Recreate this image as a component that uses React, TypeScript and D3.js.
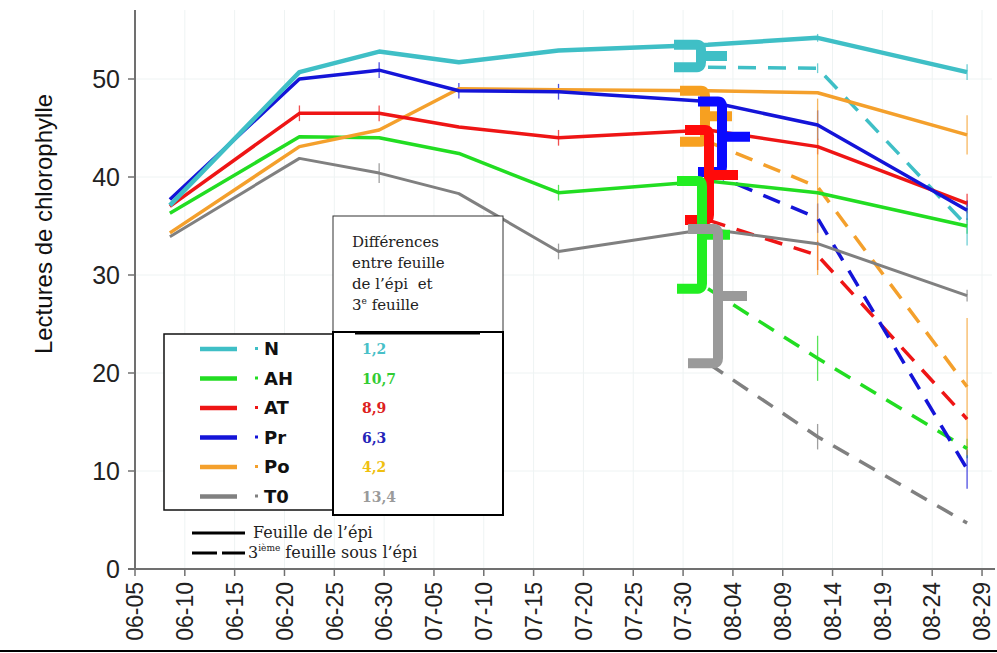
import React from 'react';
import * as d3 from 'd3';

// ---------- DATA ----------
const dates = ['2010-06-08T12', '2010-06-21T12', '2010-06-29T12', '2010-07-07T12', '2010-07-17T12', '2010-08-01T12', '2010-08-12T12', '2010-08-27T12'];
const treatments = ['N', 'AH', 'AT', 'Pr', 'Po', 'T0'];
const differences = ['1,2', '10,7', '8,9', '6,3', '4,2', '13,4'];

// Feuille de l'épi (flag leaf), one value per date
const flagN = [37.1, 50.7, 52.8, 51.7, 52.9, 53.5, 54.2, 50.7];
const flagAH = [36.3, 44.1, 44.0, 42.4, 38.4, 39.6, 38.4, 35.0];
const flagAT = [37.0, 46.5, 46.5, 45.1, 44.0, 44.8, 43.1, 37.3];
const flagPr = [37.7, 50.0, 50.9, 48.8, 48.7, 47.7, 45.3, 36.6];
const flagPo = [34.3, 43.1, 44.8, 49.0, 48.9, 48.8, 48.6, 44.3];
const flagT0 = [33.9, 41.9, 40.4, 38.3, 32.4, 34.7, 33.2, 27.9];

// 3ième feuille sous l'épi, last three dates
const thirdN = [51.2, 51.1, 35.0];
const thirdAH = [28.6, 21.5, 12.3];
const thirdAT = [35.6, 32.0, 15.3];
const thirdPr = [40.5, 35.8, 10.2];
const thirdPo = [43.6, 39.0, 18.6];
const thirdT0 = [21.0, 13.5, 4.7];

// error bar half-ranges
const errFlagN = [0, 0, 0, 0, 0, 0, 0.4, 0.8];
const errFlagAH = [0, 0, 0, 0, 0.8, 0, 0, 0.8];
const errFlagAT = [0, 0.8, 0.8, 0, 0.8, 0, 0.8, 1.0];
const errFlagPr = [0, 0, 0.8, 0.8, 0.8, 0, 1.5, 1.0];
const errFlagPo = [0, 0, 0, 0, 0, 0, 0, 2.0];
const errFlagT0 = [0, 0, 1.0, 0, 0.8, 0, 0, 0.6];
const errThirdN = [0, 0.5, 2.0];
const errThirdAH = [0, 2.3, 1.0];
const errThirdAT = [0, 1.5, 0];
const errThirdPr = [0, 1.5, 2.0];
const errThirdPo = [0, 9.0, 7.0];
const errThirdT0 = [0, 1.3, 0];

const yTicks = [0, 10, 20, 30, 40, 50];

// ---------- STYLE ----------
const colors: Record<string, string> = {
  N: '#3fbfc6', AH: '#22dd22', AT: '#ee1515', Pr: '#1414d8', Po: '#f4a02c', T0: '#808080',
};
const valueColors: Record<string, string> = {
  N: '#48c0c8', AH: '#33cc33', AT: '#dd2020', Pr: '#2424b8', Po: '#efc010', T0: '#9a9a9a',
};
const bracketColors: Record<string, string> = {
  N: '#3fbfc6', AH: '#22ee22', AT: '#ff0a0a', Pr: '#0a0aff', Po: '#f7a020', T0: '#9a9a9a',
};
// bracket geometry offsets relative to x of the bracket date (spine, arm, tip)
const bracketOffsets: Record<string, [number, number, number]> = {
  N: [-7, -34, 19], Po: [-3, -28, 24], Pr: [14, -10, 42], AT: [1, -23, 30], AH: [-6, -31, 22], T0: [10, -20, 39],
};
const bracketOrder = ['Po', 'Pr', 'AT', 'AH', 'T0', 'N'];

const W = 997;
const H = 653;

export default function App() {
  const parse = d3.timeParse('%Y-%m-%dT%H');
  const dts = dates.map((d) => parse(d) as Date);
  const x = d3.scaleTime().domain([new Date(2010, 5, 5), new Date(2010, 7, 30)]).range([135, 992]);
  const y = d3.scaleLinear().domain([0, 57]).range([569, 10.4]);
  const xTicks = d3.timeDay.range(new Date(2010, 5, 5), new Date(2010, 7, 30), 5);
  const fmt = d3.timeFormat('%m-%d');

  const flags: Record<string, number[]> = { N: flagN, AH: flagAH, AT: flagAT, Pr: flagPr, Po: flagPo, T0: flagT0 };
  const thirds: Record<string, number[]> = { N: thirdN, AH: thirdAH, AT: thirdAT, Pr: thirdPr, Po: thirdPo, T0: thirdT0 };
  const errF: Record<string, number[]> = { N: errFlagN, AH: errFlagAH, AT: errFlagAT, Pr: errFlagPr, Po: errFlagPo, T0: errFlagT0 };
  const errT: Record<string, number[]> = { N: errThirdN, AH: errThirdAH, AT: errThirdAT, Pr: errThirdPr, Po: errThirdPo, T0: errThirdT0 };
  const thirdDates = dts.slice(5);

  const line = d3.line<[Date, number]>().x((d) => x(d[0])).y((d) => y(d[1]));

  const drawOrderSolid = ['T0', 'AH', 'Po', 'AT', 'Pr', 'N'];
  const bx = x(dts[5]);

  const bracketPath = (k: string) => {
    const [s, a, t] = bracketOffsets[k];
    const yTop = y(flags[k][5]);
    const yBot = y(thirds[k][0]);
    const yMid = (yTop + yBot) / 2;
    const p = d3.path();
    p.moveTo(bx + a, yTop);
    p.lineTo(bx + s - 4, yTop);
    p.quadraticCurveTo(bx + s, yTop, bx + s, yTop + 5);
    p.lineTo(bx + s, yMid - 4);
    p.quadraticCurveTo(bx + s, yMid, bx + s + 5, yMid);
    p.lineTo(bx + t, yMid);
    p.moveTo(bx + s, yMid - 4);
    p.lineTo(bx + s, yBot - 5);
    p.quadraticCurveTo(bx + s, yBot, bx + s - 4, yBot);
    p.lineTo(bx + a, yBot);
    return p.toString();
  };

  const legendRows = treatments.map((k, i) => ({ k, yy: 349 + i * 29.5 }));

  return (
    <svg width={W} height={H} style={{ position: 'absolute', left: 0, top: 0, background: '#fff' }}>
      <rect x={0} y={0} width={W} height={H} fill="#fff" />
      {/* grid */}
      {xTicks.map((t, i) => (
        <line key={'gx' + i} x1={x(t)} x2={x(t)} y1={10} y2={569} stroke="#eef3f3" strokeWidth={1} />
      ))}
      {yTicks.map((t) => (
        <line key={'gy' + t} x1={135} x2={992} y1={y(t)} y2={y(t)} stroke="#eef3f3" strokeWidth={1} />
      ))}

      {/* error bars */}
      {treatments.map((k) =>
        flags[k].map((v, i) =>
          errF[k][i] > 0 ? (
            <line key={'ef' + k + i} x1={x(dts[i])} x2={x(dts[i])} y1={y(v + errF[k][i])} y2={y(v - errF[k][i])}
              stroke={colors[k]} strokeWidth={1.3} opacity={0.75} />
          ) : null
        )
      )}
      {treatments.map((k) =>
        thirds[k].map((v, i) =>
          errT[k][i] > 0 ? (
            <line key={'et' + k + i} x1={x(thirdDates[i])} x2={x(thirdDates[i])} y1={y(v + errT[k][i])} y2={y(v - errT[k][i])}
              stroke={colors[k]} strokeWidth={1.3} opacity={0.75} />
          ) : null
        )
      )}

      {/* dashed lines: 3ième feuille */}
      {treatments.map((k) => (
        <path key={'d' + k} d={line(thirdDates.map((d, i) => [d, thirds[k][i]]) as [Date, number][]) || ''}
          fill="none" stroke={colors[k]} strokeWidth={3.5} strokeDasharray="18 12" />
      ))}

      {/* solid lines: feuille de l'épi */}
      {drawOrderSolid.map((k) => (
        <path key={'s' + k} d={line(dts.map((d, i) => [d, flags[k][i]]) as [Date, number][]) || ''}
          fill="none" stroke={colors[k]} strokeWidth={k === 'N' ? 4.5 : k === 'T0' ? 3 : 3.5} strokeLinejoin="round" />
      ))}

      {/* brackets */}
      {bracketOrder.map((k) => (
        <path key={'b' + k} d={bracketPath(k)} fill="none" stroke={bracketColors[k]} strokeWidth={10} strokeLinejoin="round" />
      ))}

      {/* axes */}
      <line x1={135} x2={135} y1={10} y2={569} stroke="#707070" strokeWidth={2} />
      <line x1={128} x2={995} y1={569} y2={569} stroke="#707070" strokeWidth={2} />
      {yTicks.map((t) => (
        <g key={'yt' + t}>
          <line x1={128} x2={135} y1={y(t)} y2={y(t)} stroke="#707070" strokeWidth={1.5} />
          <text x={120} y={y(t)} dy="0.36em" textAnchor="end" fontFamily="Liberation Sans, Arial, sans-serif" fontSize={25} fill="#222">{t}</text>
        </g>
      ))}
      {xTicks.map((t, i) => (
        <g key={'xt' + i}>
          <line x1={x(t)} x2={x(t)} y1={569} y2={576} stroke="#707070" strokeWidth={1.5} />
          <text transform={`translate(${x(t)},582) rotate(-90)`} dy="0.36em" textAnchor="end"
            fontFamily="Liberation Sans, Arial, sans-serif" fontSize={23} fill="#222">{fmt(t)}</text>
        </g>
      ))}
      <text transform="translate(52,224) rotate(-90)" textAnchor="middle" fontFamily="Liberation Sans, Arial, sans-serif" fontSize={24} fill="#111">
        Lectures de chlorophylle
      </text>

      {/* legend box */}
      <rect x={164} y={334} width={170} height={176} fill="#fff" stroke="#111" strokeWidth={1.5} />
      {legendRows.map(({ k, yy }) => (
        <g key={'lg' + k}>
          <line x1={200} x2={237} y1={yy} y2={yy} stroke={colors[k]} strokeWidth={4.5} />
          <rect x={255} y={yy - 2} width={3} height={3} fill={colors[k]} />
          <text x={264} y={yy} dy="0.36em" fontFamily="DejaVu Sans, sans-serif" fontWeight="bold" fontSize={18} fill="#111">{k}</text>
        </g>
      ))}

      {/* differences table */}
      <rect x={333} y={216} width={170} height={116} fill="#fff" stroke="#333" strokeWidth={1} />
      {['Différences', 'entre feuille', 'de l’épi  et'].map((s, i) => (
        <text key={'h' + i} x={352} y={247 + i * 21} fontFamily="DejaVu Serif, serif" fontSize={15} fill="#222" style={{ whiteSpace: 'pre' }}>{s}</text>
      ))}
      <text x={352} y={310} fontFamily="DejaVu Serif, serif" fontSize={15} fill="#222">
        3<tspan fontSize={9} dy={-6}>e</tspan><tspan dy={6}> feuille</tspan>
      </text>
      <rect x={333} y={332} width={170} height={183} fill="#fff" stroke="#000" strokeWidth={2} />
      <line x1={355} x2={480} y1={333} y2={333} stroke="#000" strokeWidth={3} />
      {legendRows.map(({ k, yy }, i) => (
        <text key={'v' + k} x={362} y={yy} dy="0.36em" fontFamily="DejaVu Serif, serif" fontWeight="bold" fontSize={14} fill={valueColors[k]}>{differences[i]}</text>
      ))}

      {/* line style legend */}
      <line x1={192} x2={245} y1={533} y2={533} stroke="#000" strokeWidth={3} />
      <text x={253} y={538} fontFamily="DejaVu Serif, serif" fontSize={16} fill="#222">Feuille de l’épi</text>
      <line x1={192} x2={245} y1={553} y2={553} stroke="#000" strokeWidth={3} strokeDasharray="25 5" />
      <text x={248} y={558} fontFamily="DejaVu Serif, serif" fontSize={16} fill="#222">
        3<tspan fontSize={9} dy={-7}>ième</tspan><tspan dy={7}> feuille sous l’épi</tspan>
      </text>

      <line x1={0} x2={W} y1={651} y2={651} stroke="#000" strokeWidth={2} />
    </svg>
  );
}
